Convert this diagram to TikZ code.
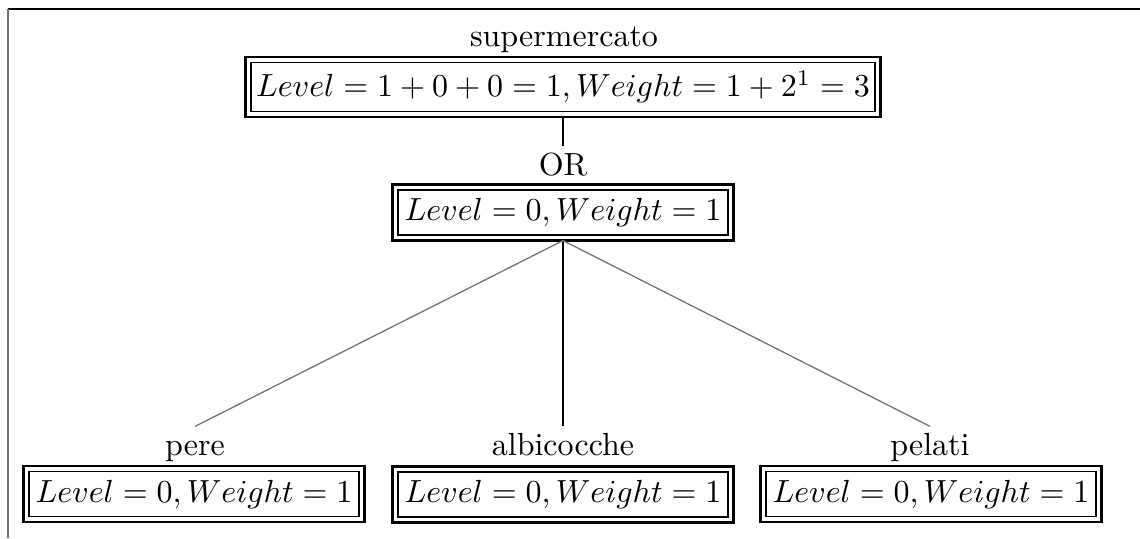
\documentclass[tikz,border=0pt]{standalone}
\usetikzlibrary{fit}
\begin{document}
\begin{tikzpicture}[x=0.3125pt,y=-0.3125pt,
  valbox/.style={draw, line width=0.4pt, inner xsep=2pt, inner ysep=2.6pt, outer sep=0pt},
  outbox/.style={draw, line width=0.75pt, inner sep=1.72pt, outer sep=0pt},
  lbl/.style={inner sep=1.8pt, text height=6.94pt, text depth=1.94pt, anchor=base},
  chosen/.style={line width=0.7pt},
  other/.style={draw=black!55, line width=0.4pt},
  frameline/.style={line width=0.45pt},
  frameside/.style={draw=black!55, line width=0.5pt}]
\useasboundingbox (0,0) rectangle (1140,538);
% frame of the page
\coordinate (fTL) at (8,9);
\coordinate (fTR) at (1140,9);
\coordinate (fBL) at (8,538);
\draw[frameline] (fTL) -- (fTR);
\draw[frameside] (fTL) -- (fBL);
% root
\node[lbl] (lsuper) at (564,46) {supermercato};
\node[valbox, inner xsep=1.6pt] (top) at (563,87) {$Level=1+0+0=1, Weight=1+2^1=3$};
\node[outbox, fit=(top)] (topO) {};
% OR
\node[lbl] (lor) at (563,175) {OR};
\node[valbox] (mid) at (563,212.5) {$Level=0, Weight=1$};
\node[outbox, fit=(mid)] (midO) {};
% children
\node[lbl] (lpere) at (195,455) {pere};
\node[valbox] (pere) at (194,494) {$Level=0, Weight=1$};
\node[outbox, fit=(pere)] (pereO) {};
\node[lbl] (lalbi) at (563,455) {albicocche};
\node[valbox] (albi) at (563,494.5) {$Level=0, Weight=1$};
\node[outbox, fit=(albi)] (albiO) {};
\node[lbl] (lpel) at (930,455) {pelati};
\node[valbox] (pel) at (931,494) {$Level=0, Weight=1$};
\node[outbox, fit=(pel)] (pelO) {};
% connectors
\draw[chosen] (topO.south) -- (lor.north);
\draw[chosen] (midO.south) -- (lalbi.north);
\draw[other] (midO.south) -- (lpere.north);
\draw[other] (midO.south) -- (lpel.north);
\end{tikzpicture}
\end{document}
